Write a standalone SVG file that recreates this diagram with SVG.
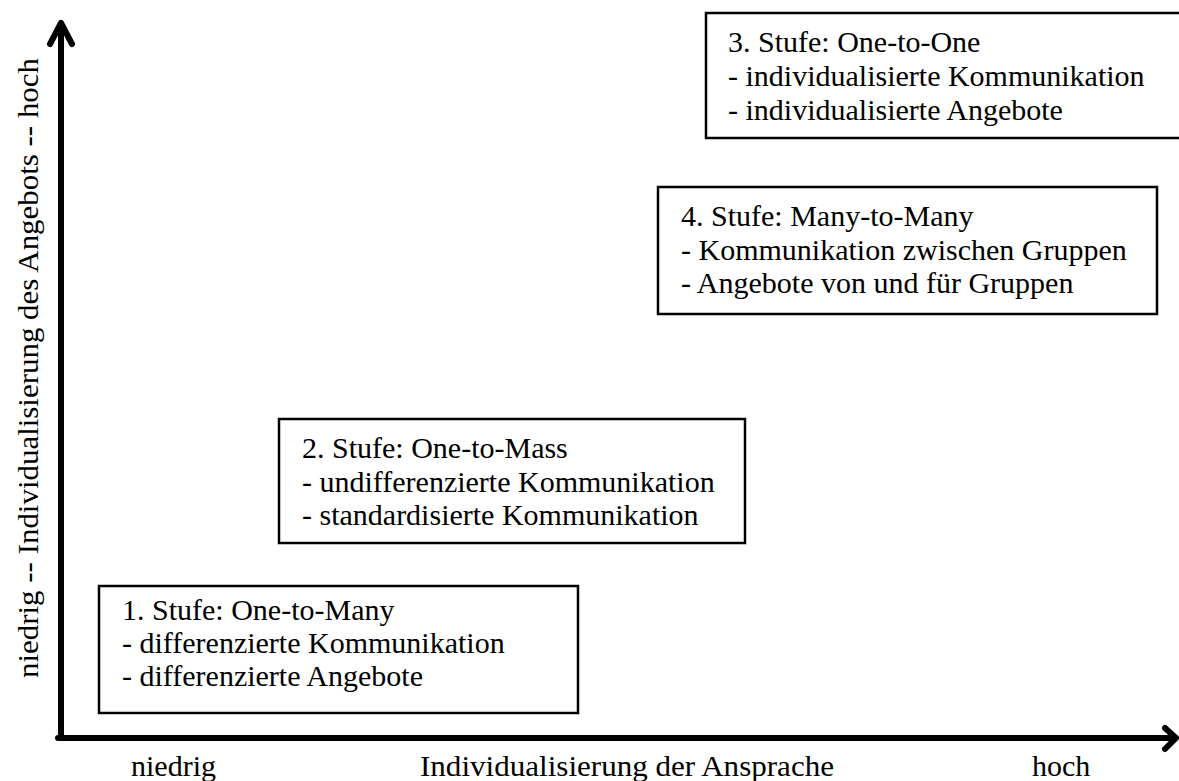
<svg xmlns="http://www.w3.org/2000/svg" width="1179" height="781" viewBox="0 0 1179 781">
<style>
.box{fill:#fff;stroke:#000;stroke-width:2.5}
.t{font-family:"Liberation Serif","Times New Roman",serif;font-size:30px;fill:#000}
.ax{fill:none;stroke:#000;stroke-width:6;stroke-linecap:round;stroke-linejoin:round}
</style>
<rect width="1179" height="781" fill="#fff"/>
<g id="connectors">
<path class="ax" d="M61,738 V24"/>
<path class="ax" d="M50,44 L61,23 L72,44"/>
<path class="ax" d="M58,738 H1175"/>
<path class="ax" d="M1165,728 L1176,738 L1165,749"/>
</g>
<g id="axis-labels">
<text class="t" x="131" y="776">niedrig</text>
<text class="t" x="420" y="776" textLength="414" lengthAdjust="spacingAndGlyphs">Individualisierung der Ansprache</text>
<text class="t" x="1032" y="776">hoch</text>
<text class="t" transform="translate(38,368) rotate(-90)" text-anchor="middle" textLength="620" lengthAdjust="spacingAndGlyphs">niedrig -- Individualisierung des Angebots -- hoch</text>
</g>
<g id="stufe1">
<rect class="box" x="99" y="586" width="479" height="127"/>
<text class="t" x="122" y="620">1. Stufe: One-to-Many</text>
<text class="t" x="122" y="653">- differenzierte Kommunikation</text>
<text class="t" x="122" y="686">- differenzierte Angebote</text>
</g>
<g id="stufe2">
<rect class="box" x="279" y="419" width="466" height="124"/>
<text class="t" x="302" y="458">2. Stufe: One-to-Mass</text>
<text class="t" x="302" y="492">- undifferenzierte Kommunikation</text>
<text class="t" x="302" y="525">- standardisierte Kommunikation</text>
</g>
<g id="stufe4">
<rect class="box" x="658" y="187" width="499" height="127"/>
<text class="t" x="681" y="226">4. Stufe: Many-to-Many</text>
<text class="t" x="681" y="260">- Kommunikation zwischen Gruppen</text>
<text class="t" x="681" y="293">- Angebote von und für Gruppen</text>
</g>
<g id="stufe3">
<rect class="box" x="706" y="13" width="490" height="125"/>
<text class="t" x="728" y="52">3. Stufe: One-to-One</text>
<text class="t" x="728" y="86">- individualisierte Kommunikation</text>
<text class="t" x="728" y="120">- individualisierte Angebote</text>
</g>
</svg>
